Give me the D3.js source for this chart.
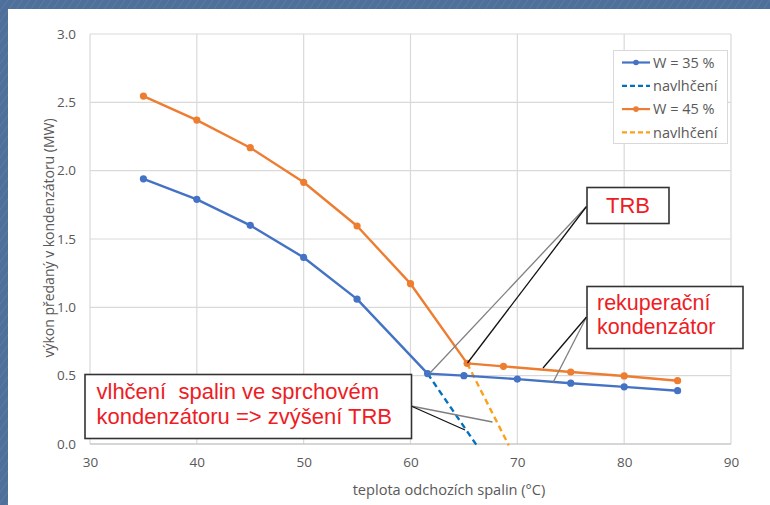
<!DOCTYPE html>
<html><head><meta charset="utf-8">
<script src="https://cdn.jsdelivr.net/npm/d3@7"></script>
<style>body{margin:0;padding:0;overflow:hidden}svg{display:block}</style>
</head><body>
<script>
// ---- data ----
const xTicks = [30, 40, 50, 60, 70, 80, 90];
const yTicks = [0.0, 0.5, 1.0, 1.5, 2.0, 2.5, 3.0];
const seriesNames = ["W = 35 %", "navlhčení", "W = 45 %", "navlhčení"];
const w35X = [35, 40, 45, 50, 55, 61.6, 65, 70, 75, 80, 85];
const w35Y = [1.94, 1.79, 1.60, 1.365, 1.06, 0.515, 0.50, 0.475, 0.445, 0.418, 0.39];
const w35wetX = [61.6, 66.2];
const w35wetY = [0.515, -0.01];
const w45X = [35, 40, 45, 50, 55, 60, 65.3, 68.7, 75, 80, 85];
const w45Y = [2.546, 2.37, 2.168, 1.915, 1.595, 1.173, 0.59, 0.568, 0.527, 0.498, 0.463];
const w45wetX = [65.3, 69.2];
const w45wetY = [0.59, -0.01];
const xTitle = "teplota odchozích spalin (°C)";
const yTitle = "výkon předaný v kondenzátoru (MW)";

const W = 770, H = 505;
const svg = d3.select("body").append("svg").attr("width", W).attr("height", H);

// background frame
svg.append("rect").attr("width", W).attr("height", H).attr("fill", "#4E709A");
const defs = svg.append("defs");
const pat = defs.append("pattern").attr("id","denim").attr("width",6).attr("height",6)
  .attr("patternUnits","userSpaceOnUse").attr("patternTransform","rotate(35)");
pat.append("rect").attr("width",6).attr("height",6).attr("fill","#4E709A");
pat.append("line").attr("x1",0).attr("y1",0).attr("x2",0).attr("y2",6).attr("stroke","#6a8ab2").attr("stroke-width",1.2).attr("opacity",0.6);
svg.append("rect").attr("width", W).attr("height", H).attr("fill", "url(#denim)");
svg.append("rect").attr("x", 8).attr("y", 9).attr("width", W - 8).attr("height", H - 9).attr("fill", "#ffffff");

const x = d3.scaleLinear().domain([30, 90]).range([90, 731]);
const y = d3.scaleLinear().domain([0, 3]).range([444, 34]);
const font = "'Open Sans', 'Noto Sans', sans-serif";

// gridlines
const g = svg.append("g");
g.selectAll(".vg").data(xTicks).enter().append("line")
  .attr("x1", d => x(d)).attr("x2", d => x(d)).attr("y1", y(0)).attr("y2", y(3))
  .attr("stroke", "#D9D9D9").attr("stroke-width", 1.2);
g.selectAll(".hg").data(yTicks).enter().append("line")
  .attr("x1", x(30)).attr("x2", x(90)).attr("y1", d => y(d)).attr("y2", d => y(d))
  .attr("stroke", d => d === 0 ? "#C8C8C8" : "#D9D9D9").attr("stroke-width", d => d === 0 ? 1.5 : 1.2);

// axes labels via d3 axis
const xAxis = svg.append("g").attr("transform", `translate(0,${y(0)})`)
  .call(d3.axisBottom(x).tickValues(xTicks).tickFormat(d3.format("d")).tickSize(0).tickPadding(13));
const yAxis = svg.append("g").attr("transform", `translate(${x(30)},0)`)
  .call(d3.axisLeft(y).tickValues(yTicks).tickFormat(d3.format(".1f")).tickSize(0).tickPadding(14));
[xAxis, yAxis].forEach(a => {
  a.select(".domain").remove();
  a.selectAll("text").attr("fill", "#595959").style("font-family", font).style("font-size", "13.5px");
});

svg.append("text").attr("x", 449).attr("y", 495).attr("text-anchor", "middle")
  .attr("fill", "#595959").style("font-family", font).style("font-size", "14.6px").text(xTitle);
svg.append("text").attr("transform", `translate(54,${238}) rotate(-90)`).attr("text-anchor", "middle")
  .attr("fill", "#595959").style("font-family", font).style("font-size", "14px").text(yTitle);

// series
const line = d3.line().x(d => x(d[0])).y(d => y(d[1]));
const zipP = (a, b) => a.map((v, i) => [v, b[i]]);
const series = [
  {pts: zipP(w35wetX, w35wetY), color: "#0070C0", dash: "6,4", markers: false},
  {pts: zipP(w45wetX, w45wetY), color: "#F9A11B", dash: "6,4", markers: false},
  {pts: zipP(w35X, w35Y), color: "#4472C4", dash: null, markers: true},
  {pts: zipP(w45X, w45Y), color: "#ED7D31", dash: null, markers: true}
];
series.forEach(s => {
  svg.append("path").attr("d", line(s.pts)).attr("fill", "none").attr("stroke", s.color)
    .attr("stroke-width", 2.4).attr("stroke-dasharray", s.dash).attr("stroke-linejoin", "round");
  if (s.markers) {
    svg.selectAll(null).data(s.pts).enter().append("circle")
      .attr("cx", d => x(d[0])).attr("cy", d => y(d[1])).attr("r", 3.6).attr("fill", s.color);
  }
});

// legend
const leg = svg.append("g");
leg.append("rect").attr("x", 613.5).attr("y", 50.5).attr("width", 114).attr("height", 93)
  .attr("fill", "#fff").attr("stroke", "#D9D9D9").attr("stroke-width", 1);
const legColors = ["#4472C4", "#0070C0", "#ED7D31", "#F9A11B"];
const legDash = [null, "5,3", null, "5,3"];
const legMark = [true, false, true, false];
seriesNames.forEach((n, i) => {
  const ly = 62.5 + i * 23.3;
  leg.append("line").attr("x1", 622).attr("x2", 650).attr("y1", ly).attr("y2", ly)
    .attr("stroke", legColors[i]).attr("stroke-width", 2.2).attr("stroke-dasharray", legDash[i]);
  if (legMark[i]) leg.append("circle").attr("cx", 636).attr("cy", ly).attr("r", 2.8).attr("fill", legColors[i]);
  leg.append("text").attr("x", 653).attr("y", ly + 5.2).attr("fill", "#595959")
    .style("font-family", font).style("font-size", "14.5px").text(n);
});

// annotations
const ann = svg.append("g");
function callout(x1, y1, x2, y2, col) {
  ann.append("line").attr("x1", x1).attr("y1", y1).attr("x2", x2).attr("y2", y2)
    .attr("stroke", col).attr("stroke-width", 1.3);
}
// TRB
callout(586.5, 206.5, 430, 373, "#7f7f7f");
callout(586.5, 206.5, 467.5, 363, "#111");
// rekuperační
callout(586.5, 317, 553, 382.5, "#7f7f7f");
callout(586.5, 317, 543, 368, "#111");
// vlhčení
callout(411, 406, 492.5, 422, "#7f7f7f");
callout(411, 406, 465, 430, "#111");

function box(x0, y0, w, h) {
  ann.append("rect").attr("x", x0).attr("y", y0).attr("width", w).attr("height", h)
    .attr("fill", "#fff").attr("stroke", "#333").attr("stroke-width", 1.6);
}
const redFont = "'Liberation Sans', Arial, sans-serif";
box(587, 187.5, 82, 36);
ann.append("text").attr("x", 628).attr("y", 213).attr("text-anchor", "middle").attr("fill", "#EE1C25")
  .style("font-family", redFont).style("font-size", "22px").text("TRB");
box(587, 286.5, 156, 62);
["rekuperační", "kondenzátor"].forEach((t, i) => {
  ann.append("text").attr("x", 597).attr("y", 310 + i * 23.5).attr("fill", "#EE1C25")
    .style("font-family", redFont).style("font-size", "21.5px").text(t);
});
box(85, 374.5, 326.5, 64);
["vlhčení  spalin ve sprchovém", "kondenzátoru => zvýšení TRB"].forEach((t, i) => {
  ann.append("text").attr("x", 96.5).attr("y", 398.5 + i * 25).attr("fill", "#EE1C25")
    .style("font-family", redFont).style("font-size", "22px").style("white-space", "pre").text(t);
});
</script>
</body></html>
